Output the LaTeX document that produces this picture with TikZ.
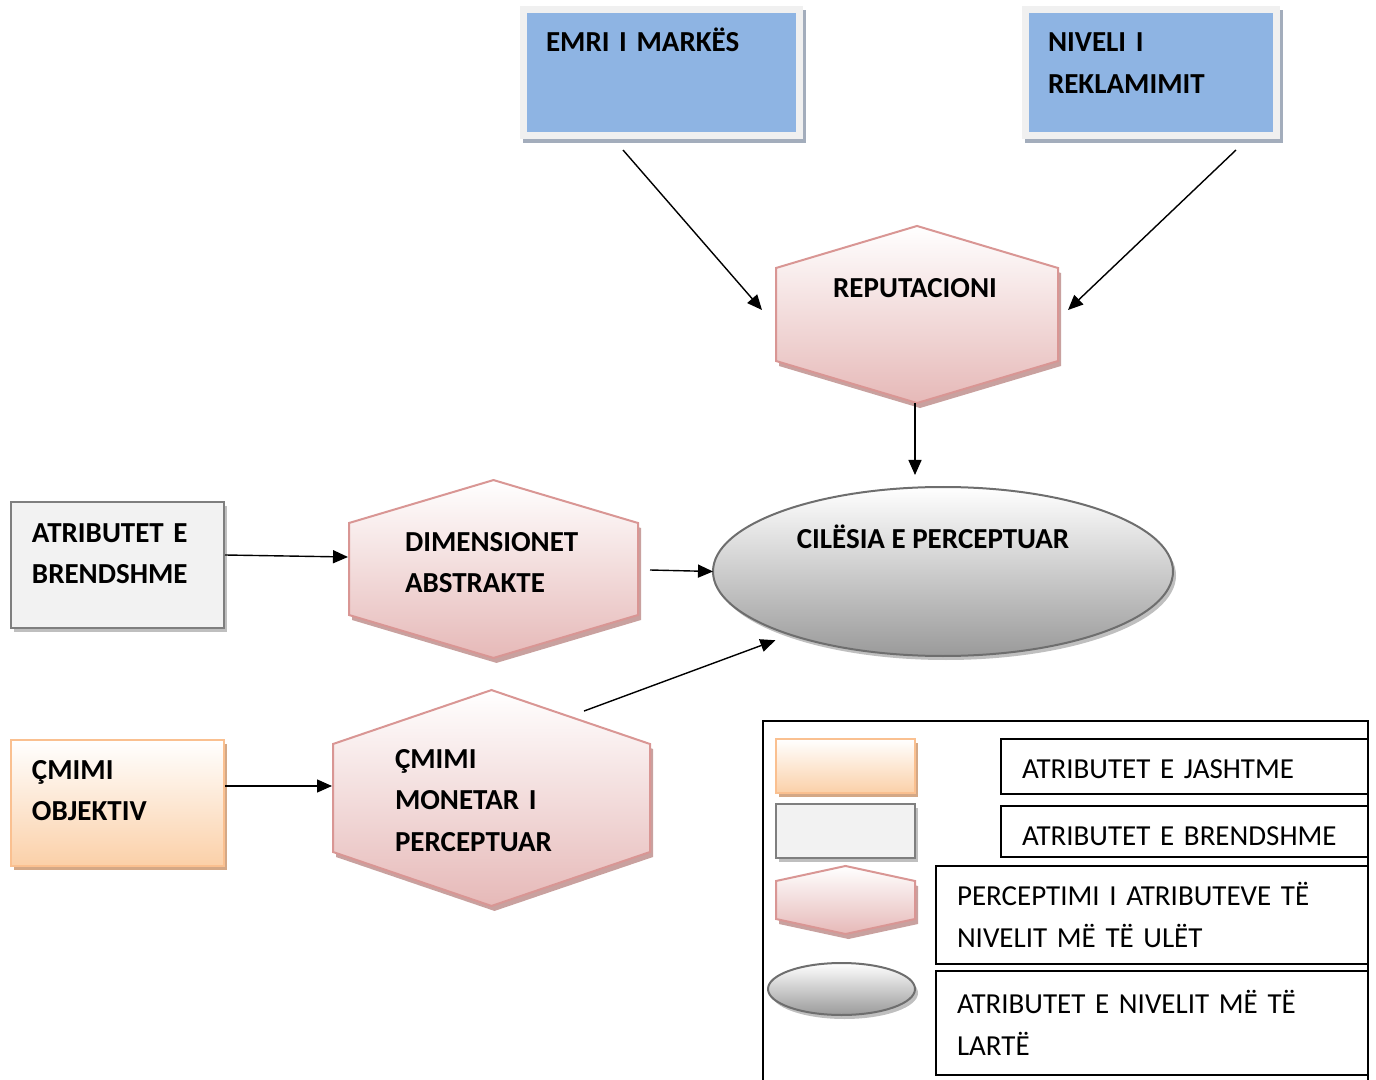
\documentclass[tikz,border=0pt]{standalone}
\usepackage{fontspec}
\setmainfont{Carlito}
\usepackage{tikz}
\usetikzlibrary{calc,arrows.meta,shapes.geometric,shapes.symbols,shadows}
\definecolor{skyfill}{HTML}{8EB4E3}
\definecolor{skyframe}{HTML}{F0F0F0}
\definecolor{skyshade}{HTML}{A3ADBC}
\definecolor{rosefill}{HTML}{E6B9B8}
\definecolor{roseline}{HTML}{D99694}
\definecolor{roseshade}{HTML}{C9A19F}
\definecolor{peachfill}{HTML}{FBD0A8}
\definecolor{peachline}{HTML}{FAC090}
\definecolor{peachshade}{HTML}{D4A886}
\definecolor{greyfill}{HTML}{F2F2F2}
\definecolor{greyline}{HTML}{7F7F7F}
\definecolor{greyshade}{HTML}{BFBFBF}
\definecolor{ovalline}{HTML}{6E6E6E}
\definecolor{ovalfill}{HTML}{9A9A9A}

\begin{document}
\begin{tikzpicture}[
    x=0.5pt, y=-0.5pt,
    every node/.style={outer sep=0pt},
    capsfont/.style={font=\fontsize{14.5pt}{20.75pt}\selectfont\bfseries},
    plainfont/.style={font=\fontsize{14.5pt}{20.75pt}\selectfont},
    lbl/.style={capsfont, inner sep=0pt, text width=160pt, align=left, anchor=base west},
    skybox/.style={draw=skyframe, line width=3.5pt, fill=skyfill, minimum height=63.25pt,
        drop shadow={shadow xshift=1.5pt, shadow yshift=-2pt, fill=skyshade, draw=skyshade, line width=3.5pt, opacity=1}},
    greybox/.style={draw=greyline, line width=1.2pt, fill=greyfill,
        drop shadow={shadow xshift=1.5pt, shadow yshift=-2pt, fill=greyshade, opacity=1}},
    peachbox/.style={draw=peachline, line width=1pt, top color=white, bottom color=peachfill,
        drop shadow={shadow xshift=1.5pt, shadow yshift=-2pt, fill=peachshade, opacity=1}},
    hexa/.style={signal, signal to=north and south, signal pointer angle=#1, inner sep=0pt,
        draw=roseline, line width=1pt, top color=white, bottom color=rosefill,
        drop shadow={shadow xshift=1.5pt, shadow yshift=-2.5pt, fill=roseshade, opacity=1}},
    oval/.style={ellipse, draw=ovalline, line width=1pt, top color=white, bottom color=ovalfill,
        drop shadow={shadow xshift=1.5pt, shadow yshift=-2pt, fill=greyshade, opacity=1}},
    keybox/.style={draw=black, line width=0.75pt, plainfont, align=left, inner xsep=10.5pt, text width=#1},
    arr/.style={-{Triangle[length=7.5pt,width=6.5pt]}, line width=0.7pt}
]
    \useasboundingbox (0,0) rectangle (1376,1080);

    % Brand and advertising
    \node[skybox, minimum width=138pt] (emri) at (661,72.75) {};
    \node[skybox, minimum width=125.5pt] (nivel) at (1150.5,72.75) {};
    \node[lbl] (emri-t) at ($(emri.north west)+(23,42.5)$) {EMRI I MARKËS};
    \node[lbl] (nivel-t) at ($(nivel.north west)+(23,42.5)$) {NIVELI I\\REKLAMIMIT};

    % Reputation and perceived quality
    \node[hexa=146.8, minimum width=141pt, minimum height=46.5pt] (rep) at (917,314.5) {};
    \node[capsfont, inner sep=0pt, anchor=base] (rep-t) at ($(rep.center)+(-2,-16.5)$) {REPUTACIONI};
    \node[oval, minimum width=230pt, minimum height=84.5pt] (cil) at (943,571.5) {};
    \node[capsfont, inner sep=0pt, anchor=base] (cil-t) at ($(cil.center)+(-10,-23.5)$) {CILËSIA E PERCEPTUAR};

    % Intrinsic attributes
    \node[greybox, minimum width=106.5pt, minimum height=63pt] (brend) at (117.5,565) {};
    \node[lbl] (brend-t) at ($(brend.north west)+(21,40)$) {ATRIBUTET E\\BRENDSHME};
    \node[hexa=146.9, minimum width=144.5pt, minimum height=46pt] (dim) at (493.5,569) {};
    \node[lbl] (dim-t) at ($(dim.center)+(-88.5,-18)$) {DIMENSIONET\\ABSTRAKTE};

    % Price
    \node[peachbox, minimum width=106.5pt, minimum height=63pt] (objk) at (117.5,803) {};
    \node[lbl] (objk-t) at ($(objk.north west)+(21,39)$) {ÇMIMI\\OBJEKTIV};
    \node[hexa=142.4, minimum width=158.5pt, minimum height=54pt] (cmim) at (491.5,798) {};
    \node[lbl] (cmim-t) at ($(cmim.center)+(-96.5,-30)$) {ÇMIMI\\MONETAR I\\PERCEPTUAR};

    % Connections
    \draw[arr] ($(emri.south)+(-38,14)$) -- ($(rep.west)+(-14,-4.5)$);
    \draw[arr] ($(nivel.south)+(85.5,14)$) -- ($(rep.east)+(10,-4.5)$);
    \draw[arr] ($(rep.south)+(-2,0)$) -- ($(rep.south |- cil.north)+(-2,-12)$);
    \draw[arr] ($(brend.east)+(1,-10)$) -- ($(dim.west)+(-1,-12)$);
    \draw[arr] ($(dim.east)+(12,1)$) -- (cil.west);
    \draw[arr] ($(objk.east)+(1,-17)$) -- ($(cmim.west)+(-1,-12)$);
    \draw[arr] ($(cmim.north)+(92.5,21)$) -- ($(cil.south west)+(-5,9)$);

    % Legend
    \draw[line width=0.75pt] (763,1080) -- (763,721) -- (1368,721) -- (1368,1080);
    \node[peachbox, minimum width=69.5pt, minimum height=27pt] (key-ext) at (845.5,766) {};
    \node[greybox, minimum width=69.5pt, minimum height=27pt] (key-int) at (845.5,831) {};
    \node[hexa=155.6, minimum width=69.5pt, minimum height=19pt] (key-low) at (845.5,900) {};
    \node[oval, minimum width=73.5pt, minimum height=26pt] (key-high) at (841.5,989) {};
    \node[keybox=162.5pt, minimum width=183.5pt, minimum height=27.5pt, text height=11.8pt, text depth=0pt] (txt-ext) at (1184.5,766.5) {ATRIBUTET E JASHTME};
    \node[keybox=162.5pt, minimum width=183.5pt, minimum height=25.5pt, text height=13.8pt, text depth=0pt] (txt-int) at (1184.5,831.5) {ATRIBUTET E BRENDSHME};
    \node[keybox=195pt, minimum width=216pt, minimum height=49pt] (txt-low) at (1152,915) {PERCEPTIMI I ATRIBUTEVE TË\\NIVELIT MË TË ULËT};
    \node[keybox=195pt, minimum width=216pt, minimum height=52pt] (txt-high) at (1152,1023) {ATRIBUTET E NIVELIT MË TË\\LARTË};
\end{tikzpicture}
\end{document}
